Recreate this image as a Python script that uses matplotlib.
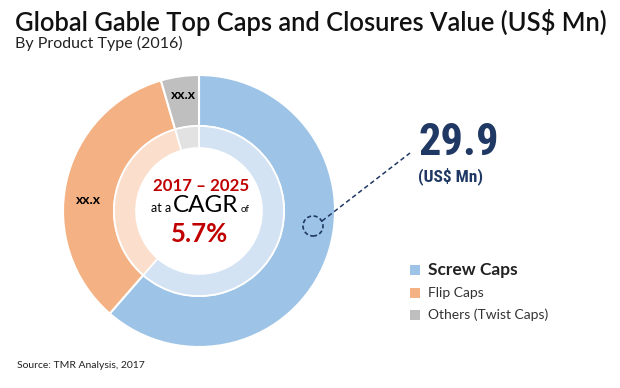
import matplotlib
matplotlib.use("Agg")
import matplotlib.pyplot as plt
from matplotlib.patches import Circle, Rectangle
from matplotlib import font_manager as fm

# ---- data ----
categories = ["Screw Caps", "Flip Caps", "Others (Twist Caps)"]
values = [29.9, 16.6, 2.2]
slice_labels = ["", "xx.x", "xx.x"]
title = "Global Gable Top Caps and Closures Value (US$ Mn)"
subtitle = "By Product Type (2016)"
cagr_years = "2017 \u2013 2025"
cagr_value = "5.7%"
highlight_value = "29.9"
highlight_unit = "(US$ Mn)"
source = "Source: TMR Analysis, 2017"

outer_colors = ["#9dc3e6", "#f4b183", "#bfbfbf"]
inner_colors = ["#d3e3f4", "#fbdfcc", "#e2e2e2"]
navy = "#1f3864"
red = "#c00000"

names = {f.name for f in fm.fontManager.ttflist}
base = "Lato" if "Lato" in names else "DejaVu Sans"
cond = None
for cand in ["Roboto Condensed", "DejaVu Sans Condensed", "Liberation Sans Narrow"]:
    if cand in names:
        cond = cand
        break
if cond is None:
    cond = "DejaVu Sans"
plt.rcParams['font.family'] = [base, 'DejaVu Sans']

fig = plt.figure(figsize=(6.2, 3.88), dpi=100)
ax = fig.add_axes([0, 0, 1, 1])

cx, cy = 199, 177
ax.pie(values, radius=136, center=(cx, cy), startangle=90, counterclock=False,
       colors=outer_colors,
       wedgeprops=dict(width=51, edgecolor="white", linewidth=1.5))
ax.pie(values, radius=85, center=(cx, cy), startangle=90, counterclock=False,
       colors=inner_colors,
       wedgeprops=dict(width=22, edgecolor="white", linewidth=1.2))
ax.set_xlim(0, 620)
ax.set_ylim(0, 388)
ax.set_aspect("auto")
ax.axis("off")

# slice labels
ax.text(88, 188, slice_labels[1], ha="center", va="center", fontsize=10,
        fontweight="bold", color="black")
ax.text(183, 293, slice_labels[2], ha="center", va="center", fontsize=10,
        fontweight="bold", color="black")

# centre text
ax.text(201, 197, cagr_years, ha="center", va="baseline", fontsize=12.2,
        fontweight="bold", color=red)
ax.text(171, 176, "at a", ha="right", va="baseline", fontsize=9, color="black")
ax.text(206, 176, "CAGR", ha="center", va="baseline", fontsize=17.5, color="black")
ax.text(241, 176, "of", ha="left", va="baseline", fontsize=7, color="black")
ax.text(200, 146, cagr_value, ha="center", va="baseline", fontsize=18.5,
        fontweight="bold", color=red)

# callout
ax.add_patch(Circle((313, 162), 10, fill=False, ls=(0, (2.5, 1.5)), lw=1.2,
                    edgecolor=navy))
ax.plot([322, 410], [167, 235], ls=(0, (3, 2)), lw=1.1, color=navy)
ax.text(418, 233, highlight_value, ha="left", va="baseline", fontsize=32,
        fontweight="bold", color=navy, family=[cond, 'DejaVu Sans'])
ax.text(418, 207, highlight_unit, ha="left", va="baseline", fontsize=12.5,
        fontweight="bold", color=navy, family=[cond, 'DejaVu Sans'])

# legend
leg_y = [118, 95, 73]
leg_sizes = [12.5, 10, 10]
leg_weights = ["bold", "normal", "normal"]
for name, col, y, fs, fw in zip(categories, outer_colors, leg_y, leg_sizes, leg_weights):
    ax.add_patch(Rectangle((410, y - 5), 10, 10, facecolor=col, edgecolor="none"))
    ax.text(428, y, name, ha="left", va="center", fontsize=fs, fontweight=fw,
            color="#222222" if fw == "bold" else "#333333")

# titles
ax.text(15, 366, title, ha="left", va="center", fontsize=18.4, fontweight="semibold",
        color="#111111")
ax.text(15, 345, subtitle, ha="left", va="center", fontsize=11.5, color="#222222")
ax.text(17, 23, source, ha="left", va="center", fontsize=7.5, color="#222222")

fig.savefig("out.png", dpi=100)
